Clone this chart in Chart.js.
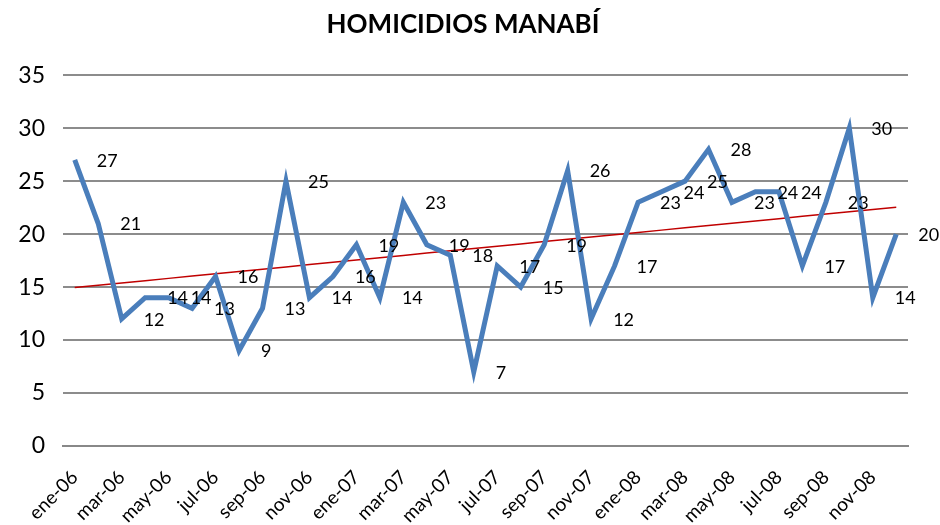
<!DOCTYPE html>
<html>
<head>
<meta charset="utf-8">
<script src="https://cdn.jsdelivr.net/npm/chart.js@4"></script>
<style>
  html, body { margin: 0; background: #fff; }
  #wrap { width: 940px; height: 525px; }
</style>
</head>
<body>
<div id="wrap"><canvas id="homicidiosChart"></canvas></div>
<script>
// months ene-06 .. dic-08
const months = [
  "ene-06", "feb-06", "mar-06", "abr-06", "may-06", "jun-06", "jul-06", "ago-06", "sep-06", "oct-06", "nov-06", "dic-06",
  "ene-07", "feb-07", "mar-07", "abr-07", "may-07", "jun-07", "jul-07", "ago-07", "sep-07", "oct-07", "nov-07", "dic-07",
  "ene-08", "feb-08", "mar-08", "abr-08", "may-08", "jun-08", "jul-08", "ago-08", "sep-08", "oct-08", "nov-08", "dic-08",
];
const homicidios = [
  27, 21, 12, 14, 14, 13, 16, 9, 13, 25, 14, 16,
  19, 14, 23, 19, 18, 7, 17, 15, 19, 26, 12, 17,
  23, 24, 25, 28, 23, 24, 24, 17, 23, 30, 14, 20,
];
const yTicks = [0, 5, 10, 15, 20, 25, 30, 35];

// linear trend line (least squares), like Excel's trendline
const linearTrend = (values) => {
  const n = values.length;
  let sx = 0, sy = 0, sxy = 0, sxx = 0;
  values.forEach((v, i) => {
    sx += i; sy += v; sxy += i * v; sxx += i * i;
  });
  const slope = (n * sxy - sx * sy) / (n * sxx - sx * sx);
  const intercept = (sy - slope * sx) / n;
  return values.map((v, i) => intercept + slope * i);
};

// value labels to the right of each point
const pointLabels = {
  id: "pointLabels",
  afterDatasetsDraw(chart) {
    const ctx = chart.ctx;
    const meta = chart.getDatasetMeta(0);
    ctx.save();
    ctx.font = "18px Lato";
    ctx.fillStyle = "#000";
    ctx.textBaseline = "middle";
    ctx.textAlign = "left";
    meta.data.forEach((pt, i) => {
      ctx.fillText(homicidios[i], pt.x + 22, pt.y + 1);
    });
    ctx.restore();
  },
};

const ctx = document.getElementById("homicidiosChart").getContext("2d");
new Chart(ctx, {
  type: "line",
  data: {
    labels: months,
    datasets: [
      {
        label: "Homicidios",
        data: homicidios,
        borderColor: "#4a7ebb",
        borderWidth: 5,
        pointRadius: 0,
        tension: 0,
      },
      {
        label: "Tendencia",
        data: linearTrend(homicidios),
        borderColor: "#c00000",
        borderWidth: 1.5,
        pointRadius: 0,
        tension: 0,
      },
    ],
  },
  options: {
    responsive: true,
    maintainAspectRatio: false,
    animation: false,
    layout: { padding: { left: 18, right: 32, top: 0, bottom: 0 } },
    plugins: {
      legend: { display: false },
      tooltip: { enabled: false },
      title: {
        display: true,
        text: "HOMICIDIOS MANABÍ",
        color: "#000",
        font: { family: "Lato", size: 26, weight: "bold" },
        padding: { top: 9, bottom: 35 },
      },
    },
    scales: {
      x: {
        offset: true,
        grid: { display: false, drawTicks: false },
        border: { color: "#888", width: 2 },
        afterFit: (scale) => {
          scale.paddingLeft = 0;
          scale.paddingRight = 0;
          scale.height = 79;
        },
        ticks: {
          autoSkip: false,
          minRotation: 45,
          maxRotation: 45,
          padding: 20,
          color: "#000",
          font: { family: "Lato", size: 19 },
          callback: (value, index) => (index % 2 === 0 ? months[index] : ""),
        },
      },
      y: {
        min: 0,
        max: 35,
        afterBuildTicks: (axis) => {
          axis.ticks = yTicks.map((v) => ({ value: v }));
        },
        afterFit: (scale) => {
          scale.width = 45;
        },
        grid: { color: "#8c8c8c", lineWidth: 2, drawTicks: false },
        border: { display: false },
        ticks: {
          padding: 18,
          color: "#000",
          font: { family: "Lato", size: 23 },
        },
      },
    },
  },
  plugins: [pointLabels],
});
</script>
</body>
</html>
